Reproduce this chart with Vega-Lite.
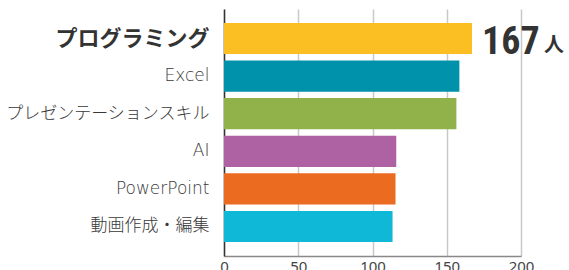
{
  "$schema": "https://vega.github.io/schema/vega-lite/v6.json",
  "width": 297,
  "height": 247,
  "autosize": {"type": "none"},
  "padding": {"left": 224, "top": 9, "right": 48, "bottom": 14},
  "background": "white",
  "data": {
    "values": [
      {"skill": "プログラミング", "count": 167},
      {"skill": "Excel", "count": 158.5},
      {"skill": "プレゼンテーションスキル", "count": 156.5},
      {"skill": "AI", "count": 116},
      {"skill": "PowerPoint", "count": 115.5},
      {"skill": "動画作成・編集", "count": 113.5}
    ]
  },
  "encoding": {
    "y": {
      "field": "skill",
      "type": "nominal",
      "sort": null,
      "scale": {"paddingInner": 0.17, "paddingOuter": 0.37},
      "axis": {
        "title": null,
        "grid": false,
        "ticks": false,
        "domainColor": "#333333",
        "domainWidth": 1.5,
        "labelPadding": 15,
        "labelLimit": 230,
        "labelFont": {"condition": {"test": "datum.value === 'プログラミング'", "value": "Noto Sans CJK JP"}, "value": "'DejaVu Sans', 'Noto Sans CJK JP'"},
        "labelFontSize": {"condition": {"test": "datum.value === 'プログラミング'", "value": 22}, "value": 17},
        "labelFontWeight": {"condition": {"test": "datum.value === 'プログラミング'", "value": "bold"}, "value": 200},
        "labelColor": {"condition": {"test": "datum.value === 'プログラミング'", "value": "#333333"}, "value": "#383838"}
      }
    },
    "x": {
      "field": "count",
      "type": "quantitative",
      "scale": {"domain": [0, 200]},
      "axis": {
        "title": null,
        "values": [0, 50, 100, 150, 200],
        "grid": true,
        "gridColor": "#c8c8c8",
        "gridWidth": 1.5,
        "domainColor": "#888888",
        "domainWidth": 1.5,
        "ticks": false,
        "labelPadding": 3,
        "labelFont": "Noto Sans",
        "labelFontSize": 15,
        "labelColor": "#444444",
        "labelFlush": false
      }
    }
  },
  "layer": [
    {
      "mark": {"type": "bar"},
      "encoding": {
        "color": {
          "field": "skill",
          "type": "nominal",
          "legend": null,
          "scale": {
            "domain": ["プログラミング", "Excel", "プレゼンテーションスキル", "AI", "PowerPoint", "動画作成・編集"],
            "range": ["#FBBF24", "#0092AA", "#91B24A", "#AE62A3", "#EB6B20", "#10B8D7"]
          }
        }
      }
    },
    {
      "transform": [{"filter": "datum.skill === 'プログラミング'"}],
      "mark": {
        "type": "text",
        "align": "left",
        "baseline": "alphabetic",
        "dx": 10,
        "dy": 15,
        "font": "'Roboto Condensed', Roboto",
        "fontWeight": "bold",
        "fontSize": 38,
        "color": "#333333"
      },
      "encoding": {"text": {"field": "count", "type": "quantitative"}}
    },
    {
      "transform": [{"filter": "datum.skill === 'プログラミング'"}],
      "mark": {
        "type": "text",
        "align": "left",
        "baseline": "alphabetic",
        "dx": 72,
        "dy": 13,
        "font": "Noto Sans CJK JP",
        "fontWeight": "bold",
        "fontSize": 20,
        "color": "#333333",
        "text": "人"
      },
      "encoding": {}
    }
  ],
  "config": {"view": {"stroke": null}}
}
